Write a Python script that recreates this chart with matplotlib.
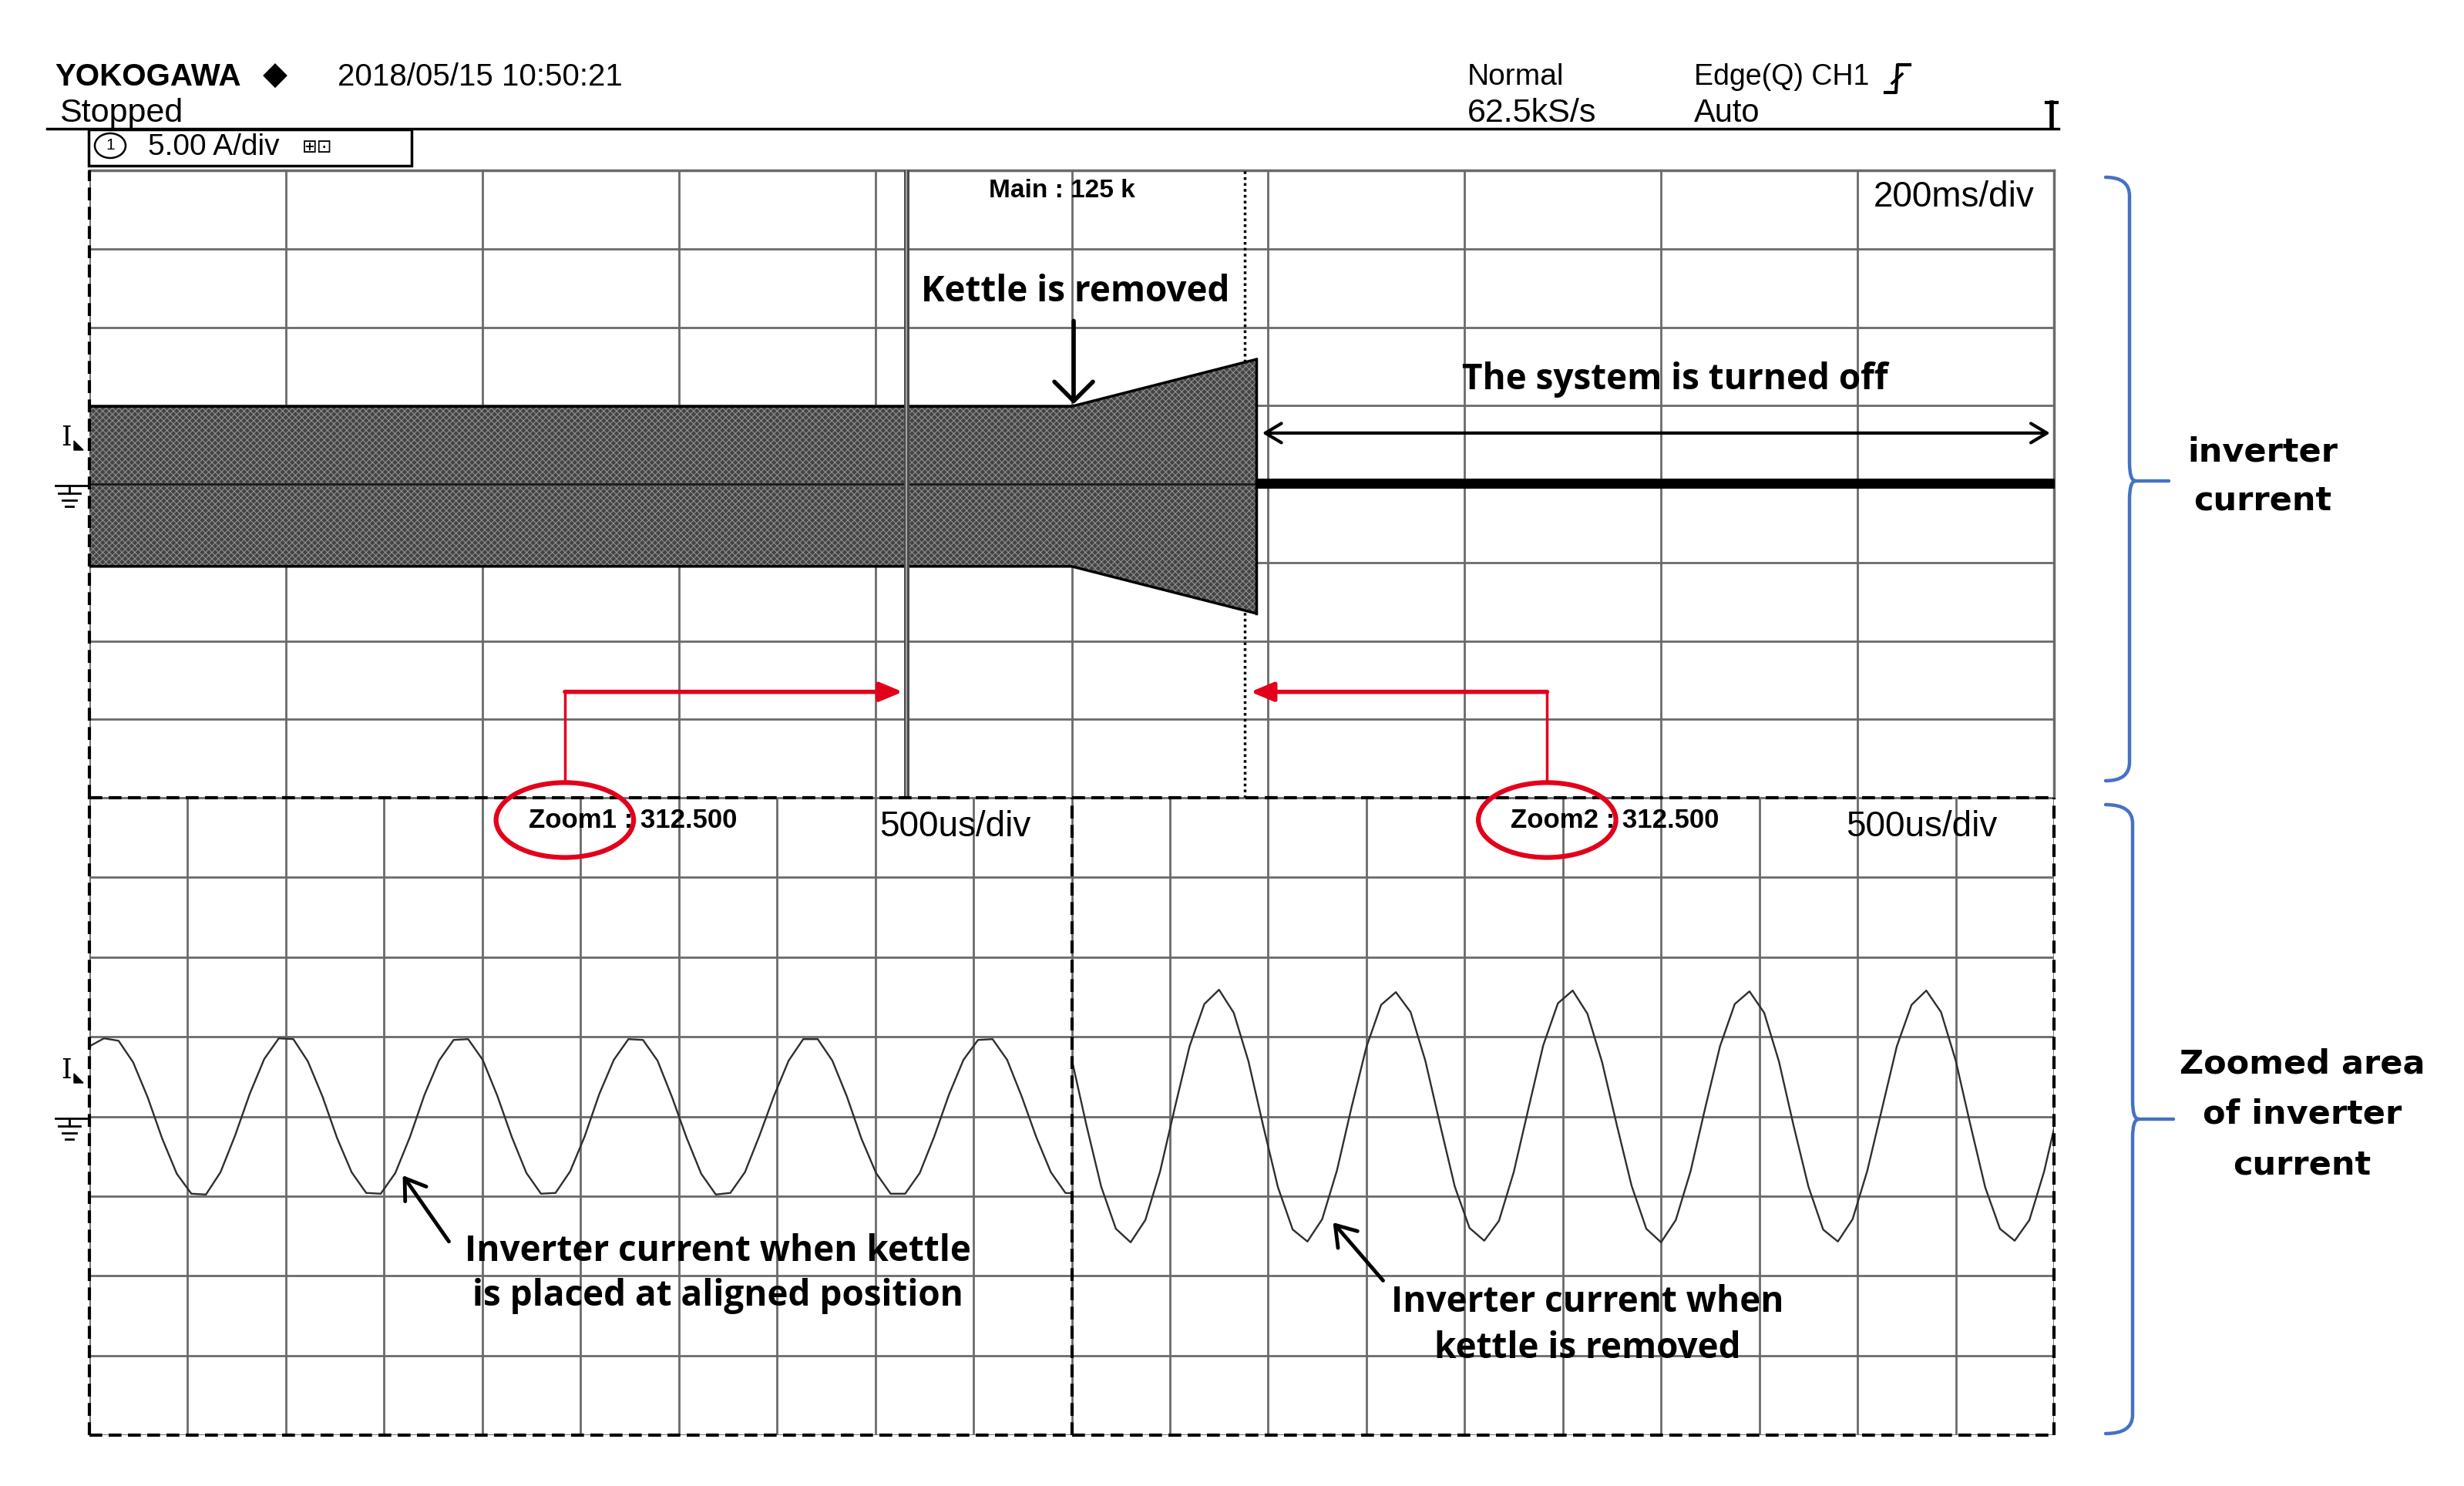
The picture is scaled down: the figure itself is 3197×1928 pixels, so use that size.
import numpy as np
import matplotlib.pyplot as plt
from matplotlib.patches import Ellipse, Rectangle, PathPatch, Polygon
from matplotlib.path import Path

# =============================
# DATA  (unit = one division)
# =============================
# main window, 200 ms/div : envelope of the inverter current band
main_x = [0.0, 5.0, 5.94]
main_hi = [0.99, 0.99, 1.59]
main_lo = [-1.05, -1.05, -1.65]

# after switch-off only a thin noisy line is left
off_x = [5.94, 10.0]
off_hi = [0.06, 0.06]
off_lo = [-0.05, -0.05]

# zoom cursor positions in the main window
zoom_pos = [4.16, 5.88]

# zoom windows, 500 us/div, one reading every dt divisions
zoom1_dt = 0.1483
zoom1_i = [
    0.88, 0.98, 0.95, 0.68, 0.24, -0.28, -0.72, -0.97, -0.98, -0.70, -0.24, 0.28,
    0.72, 0.98, 0.97, 0.69, 0.25, -0.27, -0.70, -0.96, -0.97, -0.71, -0.26, 0.27,
    0.70, 0.96, 0.97, 0.71, 0.26, -0.26, -0.71, -0.97, -0.96, -0.69, -0.25, 0.28,
    0.71, 0.97, 0.96, 0.70, 0.24, -0.27, -0.72, -0.98, -0.96, -0.70, -0.24, 0.26,
    0.70, 0.97, 0.97, 0.70, 0.25, -0.28, -0.71, -0.97, -0.97, -0.71, -0.25, 0.27,
    0.71, 0.96, 0.97, 0.71, 0.25, -0.26, -0.70, -0.96, -0.97,
]
zoom2_dt = 0.15
zoom2_i = [
    0.72, -0.11, -0.88, -1.41, -1.58, -1.30, -0.69, 0.11, 0.88, 1.41, 1.59, 1.30,
    0.69, -0.12, -0.89, -1.42, -1.57, -1.29, -0.68, 0.12, 0.87, 1.40, 1.56, 1.31,
    0.70, -0.10, -0.88, -1.40, -1.56, -1.31, -0.70, 0.10, 0.89, 1.42, 1.58, 1.29,
    0.68, -0.11, -0.87, -1.41, -1.58, -1.30, -0.69, 0.11, 0.88, 1.41, 1.57, 1.30,
    0.69, -0.12, -0.88, -1.42, -1.57, -1.29, -0.68, 0.10, 0.88, 1.40, 1.58, 1.31,
    0.70, -0.11, -0.89, -1.41, -1.56, -1.30, -0.69, 0.11,
]

# texts
header_top = ["YOKOGAWA", "2018/05/15 10:50:21", "Normal", "Edge(Q) CH1"]
header_bot = ["Stopped", "62.5kS/s", "Auto"]
main_label = "Main : 125 k"
main_scale = "200ms/div"
zoom_labels = ["Zoom1 : 312.500", "Zoom2 : 312.500"]
zoom_scale = "500us/div"
note_kettle = "Kettle is removed"
note_off = "The system is turned off"
note_zoom1 = "Inverter current when kettle\nis placed at aligned position"
note_zoom2 = "Inverter current when\nkettle is removed"
side_labels = ["inverter\ncurrent", "Zoomed area\nof inverter\ncurrent"]

# =============================
# STYLE
# =============================
W, H = 3197, 1928
RED = "#e3001b"
BLUE = "#4472c4"
GRID = "#6a6a6a"
SCOPE = ["Liberation Sans", "DejaVu Sans"]
NOTE = ["Open Sans", "DejaVu Sans"]
DASH = (0, (4, 2))

plt.rcParams["hatch.linewidth"] = 0.8


def px_box(x0, y0, x1, y1):
    return [x0 / W, 1 - y1 / H, (x1 - x0) / W, (y1 - y0) / H]


def setup_screen(ax):
    ax.set_xlim(0, 10)
    ax.set_ylim(-4, 4)
    ax.set_xticks(range(11))
    ax.set_yticks(range(-4, 5))
    ax.tick_params(length=0, labelbottom=False, labelleft=False)
    ax.grid(True, color=GRID, lw=2.0, zorder=1)
    ax.set_axisbelow(True)
    for s in ax.spines.values():
        s.set_visible(False)


def brace(ax, x_end, x_spine, x_tip, y0, y1, ym, r=24):
    verts = [
        (x_end, y0), (x_spine, y0), (x_spine, y0 + r),
        (x_spine, ym - r),
        (x_spine, ym), (x_spine + 8, ym),
        (x_tip, ym),
        (x_spine + 8, ym), (x_spine, ym), (x_spine, ym + r),
        (x_spine, y1 - r),
        (x_spine, y1), (x_end, y1),
    ]
    codes = [
        Path.MOVETO, Path.CURVE3, Path.CURVE3,
        Path.LINETO,
        Path.CURVE3, Path.CURVE3,
        Path.LINETO,
        Path.MOVETO, Path.CURVE3, Path.CURVE3,
        Path.LINETO,
        Path.CURVE3, Path.CURVE3,
    ]
    ax.add_patch(PathPatch(Path(verts, codes), fill=False, ec=BLUE, lw=3.2,
                           capstyle="round", joinstyle="round"))


def level_marker(ax, yc):
    ax.text(86, yc - 60, "I", family="DejaVu Serif", fontsize=25,
            ha="center", va="center")
    ax.add_patch(Polygon([(96, yc - 56), (108, yc - 44), (96, yc - 44)],
                         closed=True, color="k"))
    ax.plot([72, 116], [yc + 2, yc + 2], color="k", lw=2)
    ax.plot([90, 90], [yc + 2, yc + 12], color="k", lw=2)
    ax.plot([76, 104], [yc + 12, yc + 12], color="k", lw=2)
    ax.plot([81, 99], [yc + 21, yc + 21], color="k", lw=2)
    ax.plot([85, 95], [yc + 29, yc + 29], color="k", lw=2)


# =============================
# FIGURE
# =============================
fig = plt.figure(figsize=(W / 100, H / 100), dpi=100)
fig.patch.set_facecolor("white")

ax_top = fig.add_axes(px_box(116, 221, 2665, 1035))
ax_l = fig.add_axes(px_box(116, 1035, 1390.5, 1862))
ax_r = fig.add_axes(px_box(1390.5, 1035, 2665, 1862))
for ax in (ax_top, ax_l, ax_r):
    setup_screen(ax)

# ---- main window ----
ax_top.axhline(4, color=GRID, lw=2.5, clip_on=False)
ax_top.axvline(10, color=GRID, lw=2.5, clip_on=False)
ax_top.axvline(0, color="k", lw=3, ls=DASH, clip_on=False, zorder=6)

ax_top.axvline(zoom_pos[1], color="k", lw=2.5, ls=(0, (1, 1.2)), zorder=2)

ax_top.fill_between(main_x, main_lo, main_hi, facecolor="#444444",
                    edgecolor="#909090", hatch="xxxx", lw=0, zorder=3)
ax_top.plot(main_x, main_hi, color="k", lw=2.5, zorder=4)
ax_top.plot(main_x, main_lo, color="k", lw=2.5, zorder=4)
ax_top.plot([main_x[-1]] * 2, [main_lo[-1], main_hi[-1]], color="k", lw=2.5, zorder=4)
ax_top.plot([main_x[0], main_x[-1]], [0, 0], color="#1a1a1a", lw=2, zorder=4)
ax_top.fill_between(off_x, off_lo, off_hi, color="k", lw=1.5, zorder=4)

ax_top.axvline(zoom_pos[0], color="#4a4a4a", lw=5, zorder=5)
ax_top.axvline(zoom_pos[0], color="#b5b5b5", lw=1.2, zorder=5)

ax_top.text(4.58, 3.74, main_label, fontsize=24, fontweight="bold",
            family=SCOPE, va="center")
ax_top.text(9.9, 3.66, main_scale, fontsize=33, family=SCOPE,
            ha="right", va="center")

ax_top.text(5.02, 2.45, note_kettle, fontsize=33, fontweight="bold",
            family=NOTE, ha="center", va="center")
ax_top.annotate("", xy=(5.01, 1.02), xytext=(5.01, 2.08),
                arrowprops=dict(arrowstyle="->,head_length=0.6,head_width=0.6",
                                lw=4, color="k", mutation_scale=30,
                                shrinkA=0, shrinkB=0))
ax_top.text(8.07, 1.33, note_off, fontsize=33, fontweight="bold",
            family=NOTE, ha="center", va="center")
ax_top.annotate("", xy=(9.98, 0.65), xytext=(5.97, 0.65),
                arrowprops=dict(arrowstyle="<->,head_length=0.5,head_width=0.3",
                                lw=3, color="k", mutation_scale=30,
                                shrinkA=0, shrinkB=0))

# red connectors from the zoom labels to the cursors
ax_top.plot([2.42, 2.42], [-3.78, -2.65], color=RED, lw=2.5, zorder=7)
ax_top.annotate("", xy=(zoom_pos[0] - 0.02, -2.65), xytext=(2.42, -2.65),
                arrowprops=dict(arrowstyle="-|>,head_length=0.6,head_width=0.25",
                                lw=4, color=RED, mutation_scale=30,
                                shrinkA=0, shrinkB=0), zorder=7)
ax_top.plot([7.42, 7.42], [-3.78, -2.65], color=RED, lw=2.5, zorder=7)
ax_top.annotate("", xy=(zoom_pos[1] + 0.03, -2.65), xytext=(7.42, -2.65),
                arrowprops=dict(arrowstyle="-|>,head_length=0.6,head_width=0.25",
                                lw=4, color=RED, mutation_scale=30,
                                shrinkA=0, shrinkB=0), zorder=7)

# ---- zoom windows ----
t1 = np.arange(len(zoom1_i)) * zoom1_dt
t2 = np.arange(len(zoom2_i)) * zoom2_dt
ax_l.plot(t1, zoom1_i, color="#2e2e2e", lw=1.7, zorder=4)
ax_r.plot(t2, zoom2_i, color="#2e2e2e", lw=1.7, zorder=4)

for ax in (ax_l, ax_r):
    ax.axhline(4, color="k", lw=3, ls=DASH, clip_on=False, zorder=6)
    ax.axhline(-4, color="k", lw=3, ls=DASH, clip_on=False, zorder=6)
    ax.axvline(0, color="k", lw=3, ls=DASH, clip_on=False, zorder=6)
ax_r.axvline(10, color="k", lw=3, ls=DASH, clip_on=False, zorder=6)

for ax, lab, x_scale in ((ax_l, zoom_labels[0], 8.04), (ax_r, zoom_labels[1], 7.88)):
    ax.text(4.47, 3.71, lab, fontsize=25, fontweight="bold", family=SCOPE,
            va="center", zorder=7)
    ax.text(x_scale, 3.63, zoom_scale, fontsize=33, family=SCOPE,
            va="center", zorder=7)
    ax.add_patch(Ellipse((4.84, 3.72), 1.40, 0.94, fill=False, ec=RED,
                         lw=4.5, clip_on=False, zorder=8))

ax_l.annotate("", xy=(3.19, -0.74), xytext=(3.66, -1.57),
              arrowprops=dict(arrowstyle="->,head_length=0.6,head_width=0.4",
                              lw=3.5, color="k", mutation_scale=30,
                              shrinkA=0, shrinkB=0))
ax_l.text(6.40, -1.97, note_zoom1, fontsize=33, fontweight="bold", family=NOTE,
          ha="center", va="center", linespacing=1.3)
ax_r.annotate("", xy=(2.66, -1.33), xytext=(3.17, -2.06),
              arrowprops=dict(arrowstyle="->,head_length=0.6,head_width=0.4",
                              lw=3.5, color="k", mutation_scale=30,
                              shrinkA=0, shrinkB=0))
ax_r.text(5.25, -2.62, note_zoom2, fontsize=33, fontweight="bold", family=NOTE,
          ha="center", va="center", linespacing=1.35)

# ---- overlay in pixel coordinates: header, markers, brackets ----
ov = fig.add_axes([0, 0, 1, 1], zorder=10)
ov.set_xlim(0, W)
ov.set_ylim(H, 0)
ov.axis("off")
ov.patch.set_alpha(0)

ov.text(71, 100, header_top[0], fontsize=29, fontweight="bold", family=SCOPE, va="center")
ov.text(357, 98, "\u25c6", fontsize=30, family="DejaVu Sans", ha="center", va="center")
ov.text(438, 100, header_top[1], fontsize=29, family=SCOPE, va="center")
ov.text(1904, 100, header_top[2], fontsize=28, family=SCOPE, va="center")
ov.text(2198, 100, header_top[3], fontsize=27, family=SCOPE, va="center")
ov.text(77, 147, header_bot[0], fontsize=31, family=SCOPE, va="center")
ov.text(1904, 147, header_bot[1], fontsize=31, family=SCOPE, va="center")
ov.text(2198, 147, header_bot[2], fontsize=30, family=SCOPE, va="center")
ov.plot([61, 2671], [167, 167], color="k", lw=2.5)

# trigger edge sign and trigger position mark
ov.plot([2446, 2460, 2462, 2478], [120, 120, 84, 84], color="k", lw=3)
ov.plot([2455, 2468], [108, 96], color="k", lw=2.5)
ov.plot([2655, 2669], [133, 133], color="k", lw=3)
ov.plot([2662, 2662], [133, 165], color="k", lw=4)

# channel box
ov.add_patch(Rectangle((115, 168), 419, 47, fill=False, ec="k", lw=2.5))
ov.add_patch(Ellipse((143, 189), 40, 32, fill=False, ec="k", lw=1.8))
ov.text(143, 189, "1", fontsize=15, family=SCOPE, ha="center", va="center")
ov.text(192, 191, "5.00 A/div", fontsize=28, family=SCOPE, va="center")
ov.text(392, 191, "\u229e\u22a1", fontsize=17, family="DejaVu Sans", va="center")

level_marker(ov, 628)
level_marker(ov, 1449)

brace(ov, 2732, 2763, 2814, 230, 1013, 624)
brace(ov, 2732, 2767, 2820, 1044, 1860, 1452)
ov.text(2936, 618, side_labels[0], fontsize=31, fontweight="bold",
        family="DejaVu Sans", ha="center", va="center", linespacing=1.65)
ov.text(2987, 1446, side_labels[1], fontsize=31, fontweight="bold",
        family="DejaVu Sans", ha="center", va="center", linespacing=1.7)

fig.savefig("out.png", dpi=100, facecolor="white")
